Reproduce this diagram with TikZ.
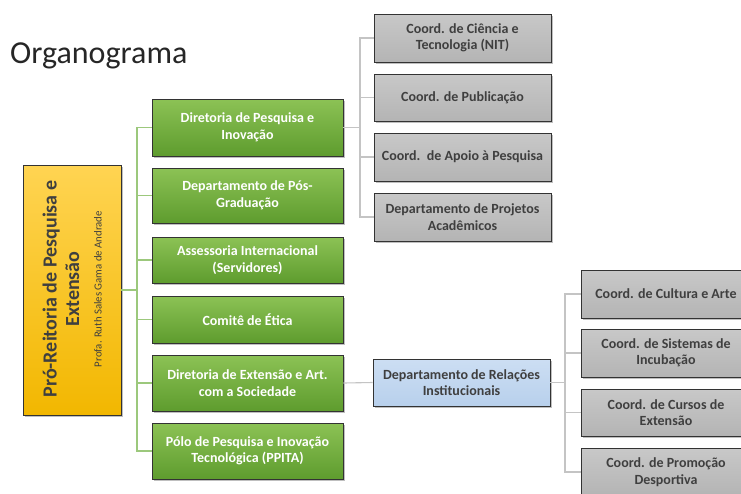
\documentclass[tikz,border=0pt]{standalone}
\usepackage{fontspec}
\setmainfont{Carlito}
\usetikzlibrary{shadows}
\definecolor{gtop}{HTML}{8CC255}
\definecolor{gbot}{HTML}{5E9C2E}
\definecolor{greyA}{HTML}{C8C8C8}
\definecolor{greyB}{HTML}{B4B4B4}
\definecolor{blueA}{HTML}{CCDEF3}
\definecolor{blueB}{HTML}{B8D0EC}
\definecolor{yelA}{HTML}{FFD452}
\definecolor{yelB}{HTML}{F2B700}
\definecolor{txtgrey}{HTML}{3F3F3F}
\definecolor{glink}{HTML}{9CC87C}
\definecolor{slink}{HTML}{C4C4C4}
\begin{document}
\begin{tikzpicture}[x=1pt,y=-1pt,
  box/.style={draw=black!80, line width=0.9pt, align=center, inner sep=2pt,
    font=\fontsize{14}{16.5}\selectfont\bfseries,
    drop shadow={shadow xshift=2pt, shadow yshift=-2pt, fill=black, opacity=0.25}},
  gbox/.style={box, top color=gtop, bottom color=gbot, text=white, minimum width=191pt},
  sbox/.style={box, top color=greyA, bottom color=greyB, text=txtgrey, minimum width=177pt},
  rbox/.style={box, top color=greyA, bottom color=greyB, text=txtgrey, minimum width=170pt},
  bbox/.style={box, top color=blueA, bottom color=blueB, text=txtgrey, minimum width=177pt},
  glk/.style={draw=glink, line width=1.3pt},
  slk/.style={draw=slink, line width=1.1pt}]
\useasboundingbox (0,0) rectangle (741,493);
\fill[white] (0,0) rectangle (741,493);

\node[anchor=base west, font=\fontsize{32}{36}\selectfont, text=black!85, inner sep=0pt] (title) at (10,63) {Organograma};

% main yellow box
\node[draw=black!80, line width=0.9pt, top color=yelA, bottom color=yelB,
  minimum width=98pt, minimum height=250pt,
  drop shadow={shadow xshift=2pt, shadow yshift=-2pt, fill=black, opacity=0.25}] (pr) at (72,290) {};
\node[rotate=90, align=center, text=txtgrey, font=\fontsize{20}{22.5}\selectfont\bfseries] (prt) at (61,289) {Pró-Reitoria de Pesquisa e\\Extensão};
\node[rotate=90, text=txtgrey, font=\fontsize{10.8}{12}\selectfont] (prs) at (98,289) {Profa. Ruth Sales Gama de Andrade};

% green boxes
\node[gbox, minimum height=57pt] (g1) at (247.5,127.5) {Diretoria de Pesquisa e\\Inovação};
\node[gbox, minimum height=55pt] (g2) at (247.5,195.5) {Departamento de Pós-\\Graduação};
\node[gbox, minimum height=46pt] (g3) at (247.5,260) {Assessoria Internacional\\(Servidores)};
\node[gbox, minimum height=47pt] (g4) at (247.5,319.5) {Comitê de Ética};
\node[gbox, minimum height=56pt] (g5) at (247.5,383) {Diretoria de Extensão e Art.\\com a Sociedade};
\node[gbox, minimum height=56pt] (g6) at (247.5,451) {Pólo de Pesquisa e Inovação\\Tecnológica (PPITA)};

% grey top boxes
\node[sbox, minimum height=48pt] (s1) at (462.5,38) {Coord. de Ciência e\\Tecnologia (NIT)};
\node[sbox, minimum height=47pt] (s2) at (462.5,97.5) {Coord. de Publicação};
\node[sbox, minimum height=48pt] (s3) at (462.5,157) {Coord.\ \ de Apoio à Pesquisa};
\node[sbox, minimum height=48pt] (s4) at (462.5,217) {Departamento de Projetos\\Acadêmicos};

% blue box
\node[bbox, minimum height=47pt] (b1) at (461.5,382.5) {Departamento de Relações\\Institucionais};

% grey bottom-right boxes
\node[rbox, minimum height=48pt] (r1) at (666,294) {Coord. de Cultura e Arte};
\node[rbox, minimum height=48pt] (r2) at (666,353) {Coord. de Sistemas de\\Incubação};
\node[rbox, minimum height=47pt] (r3) at (666,412.5) {Coord. de Cursos de\\Extensão};
\node[rbox, minimum height=48pt] (r4) at (666,472) {Coord. de Promoção\\Desportiva};

% connectors
\coordinate (gt) at (137,290);
\draw[glk] (pr.east) -- (gt);
\foreach \n in {g1,g2,g3,g4,g5,g6} \draw[glk] (gt) |- (\n.west);
\coordinate (st) at (360,127.5);
\draw[slk] (g1.east) -- (st);
\foreach \n in {s1,s2,s3,s4} \draw[slk] (st) |- (\n.west);
\draw[slk] (g5.east) -- (b1.west);
\coordinate (rt) at (565,382.5);
\draw[slk] (b1.east) -- (rt);
\foreach \n in {r1,r2,r3,r4} \draw[slk] (rt) |- (\n.west);
\end{tikzpicture}
\end{document}
